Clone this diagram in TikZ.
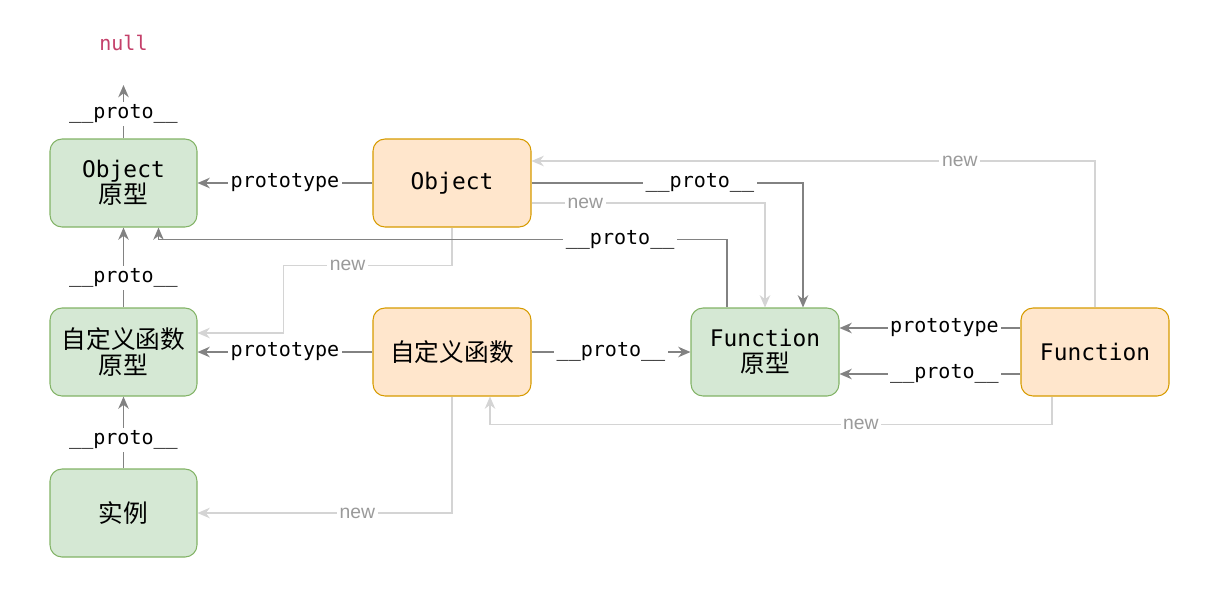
\documentclass[tikz,border=0pt]{standalone}
\usepackage{fontspec}
\setmonofont{DejaVu Sans Mono}
\setsansfont{Liberation Sans}
\newfontfamily\cjk{Noto Sans CJK SC}[Scale=1.08]
\usetikzlibrary{arrows.meta}
\definecolor{greenfill}{HTML}{D5E8D4}
\definecolor{greenline}{HTML}{82B366}
\definecolor{orangefill}{HTML}{FFE6CC}
\definecolor{orangeline}{HTML}{D79B00}
\definecolor{linkgray}{HTML}{828282}
\definecolor{newgray}{HTML}{D4D4D4}
\definecolor{newtext}{HTML}{9A9A9A}
\definecolor{nullred}{RGB}{196,64,106}

\begin{document}
\begin{tikzpicture}[
      box/.style={draw=#1line, fill=#1fill, line width=0.6pt, rounded corners=0.24cm, align=center, minimum width=2.94cm, minimum height=1.76cm, font=\fontsize{13}{15}\selectfont\ttfamily},
      link/.style={draw=linkgray, line width=0.8pt, -{Stealth[length=7pt,width=6pt]}},
      newlink/.style={draw=newgray, line width=0.6pt, -{Stealth[length=7pt,width=6pt]}},
      lbl/.style={fill=white, inner sep=1.5pt, text=black, font=\fontsize{11.4}{13}\selectfont\ttfamily},
      newlbl/.style={fill=white, inner sep=1.5pt, text=newtext, font=\fontsize{11}{13}\selectfont\sffamily}
    ]
      \useasboundingbox (0,0) rectangle (24.42,-12.08);

      \node[text=nullred, font=\fontsize{11.4}{13}\selectfont\ttfamily] (null) at (2.47,-0.86) {null};
      \node[box=green] (objp) at (2.47,-3.66) {Object\\{\cjk 原型}};
      \node[box=orange, minimum width=3.16cm] (obj) at (9.04,-3.66) {Object};
      \node[box=green] (cfp) at (2.47,-7.04) {{\cjk 自定义函数}\\{\cjk 原型}};
      \node[box=orange, minimum width=3.16cm] (cf) at (9.04,-7.04) {{\cjk 自定义函数}};
      \node[box=green, minimum width=2.96cm] (fnp) at (15.3,-7.04) {Function\\{\cjk 原型}};
      \node[box=orange, minimum width=2.96cm] (fn) at (21.9,-7.04) {Function};
      \node[box=green] (inst) at (2.47,-10.26) {{\cjk 实例}};

      \draw[newlink] ([yshift=-0.4cm]obj.east) -| node[newlbl, pos=0.115] {new} (fnp.north);
      \draw[newlink] (obj.south) -- ++(0,-0.76) -| node[newlbl, pos=0.31] {new} ([xshift=1.72cm,yshift=0.38cm]cfp.east) -- ([yshift=0.38cm]cfp.east);
      \draw[newlink] (fn.north) |- node[newlbl, pos=0.62] {new} ([yshift=0.44cm]obj.east);
      \draw[newlink] ([xshift=-0.86cm]fn.south) -- ++(0,-0.56) -| node[newlbl, pos=0.17] {new} ([xshift=0.76cm]cf.south);
      \draw[newlink] (cf.south) |- node[newlbl, pos=0.686] {new} (inst.east);

      \draw[link, shorten >=0.56cm] (objp.north) -- node[lbl, pos=0.3] {\_\_proto\_\_} (null.south);
      \draw[link] (obj.west) -- node[lbl] {prototype} (objp.east);
      \draw[link] (cfp.north) -- node[lbl, pos=0.37] {\_\_proto\_\_} (objp.south);
      \draw[link] (cf.west) -- node[lbl] {prototype} (cfp.east);
      \draw[link] (inst.north) -- node[lbl, pos=0.4] {\_\_proto\_\_} (cfp.south);
      \draw[link] (obj.east) -| node[lbl, pos=0.31] {\_\_proto\_\_} ([xshift=0.76cm]fnp.north);
      \draw[link] ([xshift=-0.76cm]fnp.north) -- ++(0,1.36) -| node[lbl, pos=0.094] {\_\_proto\_\_} ([xshift=0.7cm]objp.south);
      \draw[link] (cf.east) -- node[lbl] {\_\_proto\_\_} (fnp.west);
      \draw[link] ([yshift=0.48cm]fn.west) -- node[lbl, pos=0.42] {prototype} ([yshift=0.48cm]fnp.east);
      \draw[link] ([yshift=-0.44cm]fn.west) -- node[lbl, pos=0.42] {\_\_proto\_\_} ([yshift=-0.44cm]fnp.east);
    \end{tikzpicture}
\end{document}
